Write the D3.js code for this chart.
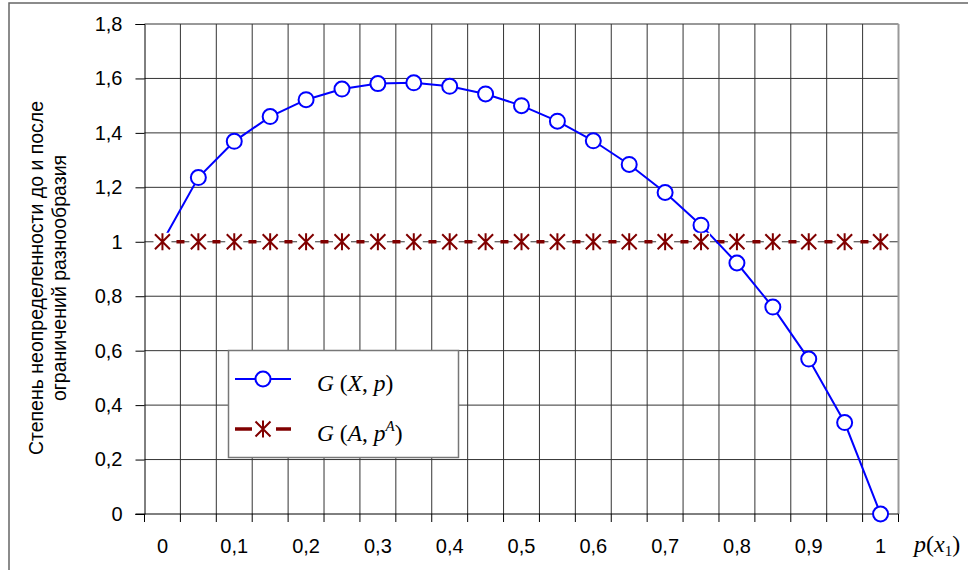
<!DOCTYPE html>
<html>
<head>
<meta charset="utf-8">
<script src="https://cdn.jsdelivr.net/npm/d3@7"></script>
<style>
  body { margin: 0; background: #fff; }
  svg { display: block; }
  .tick text { font-family: "Liberation Sans", Arial, sans-serif; font-size: 20px; fill: #000; }
</style>
</head>
<body>
<svg id="chart" width="968" height="570"></svg>
<script>
// p(x1) categories, 0 .. 1 step 0,05
const categories = ["0", "0,05", "0,1", "0,15", "0,2", "0,25", "0,3", "0,35", "0,4", "0,45", "0,5",
                    "0,55", "0,6", "0,65", "0,7", "0,75", "0,8", "0,85", "0,9", "0,95", "1"];
// G(X, p)
const gX = [1.000, 1.236, 1.369, 1.460, 1.522, 1.561, 1.581, 1.584, 1.571, 1.543, 1.500,
            1.443, 1.371, 1.284, 1.181, 1.061, 0.922, 0.760, 0.569, 0.336, 0.000];
// G(A, p^A)
const gA = [1, 1, 1, 1, 1, 1, 1, 1, 1, 1, 1, 1, 1, 1, 1, 1, 1, 1, 1, 1, 1];
const yTicks = [0, 0.2, 0.4, 0.6, 0.8, 1, 1.2, 1.4, 1.6, 1.8];
const yTitle = ["Степень неопределенности до и после", "ограничений разнообразия"];

const svg = d3.select("#chart");
const plotL = 144.5, plotR = 898.5, plotT = 24, plotB = 514;

const x = d3.scaleBand().domain(categories).range([plotL, plotR]).padding(0);
const y = d3.scaleLinear().domain([0, 1.8]).range([plotB, plotT]);
const cx = (d, i) => x(categories[i]) + x.bandwidth() / 2;
const edges = d3.range(categories.length + 1).map(i => plotL + i * x.step());

// outer frame
svg.append("rect").attr("x", 9).attr("y", 3).attr("width", 980).attr("height", 600)
  .attr("fill", "none").attr("stroke", "#666").attr("stroke-width", 1.5);

// grid
svg.append("g").selectAll("line").data(edges.slice(1)).join("line")
  .attr("x1", d => d).attr("x2", d => d).attr("y1", plotT).attr("y2", plotB)
  .attr("stroke", "#333").attr("stroke-width", 1);
svg.append("g").selectAll("line").data(yTicks.slice(1)).join("line")
  .attr("x1", plotL).attr("x2", plotR).attr("y1", d => y(d)).attr("y2", d => y(d))
  .attr("stroke", "#333").attr("stroke-width", 1);
// right border of plot area
svg.append("line").attr("x1", plotR).attr("x2", plotR).attr("y1", plotT).attr("y2", plotB)
  .attr("stroke", "#999").attr("stroke-width", 2);

// y axis
const yAxis = svg.append("g").attr("transform", `translate(${plotL},0)`)
  .call(d3.axisLeft(y).tickValues(yTicks).tickSize(9).tickPadding(13)
    .tickFormat(d => d3.format(".1~f")(d).replace(".", ",")));
yAxis.selectAll("line, path").attr("stroke", "#000");

// x axis: labels at every second category, ticks on band edges
const xAxis = svg.append("g").attr("transform", `translate(0,${plotB})`)
  .call(d3.axisBottom(x).tickSize(0).tickPadding(25)
    .tickFormat((d, i) => i % 2 === 0 ? d : ""));
xAxis.select("path").remove();
svg.append("line").attr("x1", plotL - 9).attr("x2", plotR).attr("y1", plotB).attr("y2", plotB)
  .attr("stroke", "#000");
svg.append("g").selectAll("line").data(edges).join("line")
  .attr("x1", d => d).attr("x2", d => d).attr("y1", plotB).attr("y2", plotB + 8)
  .attr("stroke", "#000");

// y title
const yt = svg.append("text")
  .attr("transform", "translate(0,278) rotate(-90)")
  .attr("text-anchor", "middle")
  .style("font-family", "Liberation Sans, Arial, sans-serif").style("font-size", "19.5px");
yt.selectAll("tspan").data(yTitle).join("tspan")
  .attr("x", 0).attr("y", (d, i) => 43 + i * 23).text(d => d);

// x title p(x1)
const xt = svg.append("text").attr("x", 914).attr("y", 552)
  .style("font-family", "Liberation Serif, Times New Roman, serif").style("font-size", "24px");
xt.append("tspan").style("font-style", "italic").text("p");
xt.append("tspan").text("(");
xt.append("tspan").style("font-style", "italic").text("x");
xt.append("tspan").attr("dy", 4).style("font-size", "15px").text("1");
xt.append("tspan").attr("dy", -4).text(")");

// series lines
const lineGen = d3.line().x(cx).y(d => y(d));
svg.append("path").datum(gA).attr("d", lineGen).attr("fill", "none")
  .attr("stroke", "#800000").attr("stroke-width", 3.5).attr("stroke-dasharray", "0,14,8,14");
svg.append("path").datum(gX).attr("d", lineGen).attr("fill", "none")
  .attr("stroke", "#0000ff").attr("stroke-width", 2);

function circleMarker(g, px, py) {
  g.append("circle").attr("cx", px).attr("cy", py).attr("r", 7.5)
    .attr("fill", "#fff").attr("stroke", "#0000ff").attr("stroke-width", 2);
}
function starMarker(g, px, py) {
  g.append("rect").attr("x", px - 9).attr("y", py - 9).attr("width", 18).attr("height", 18).attr("fill", "#fff");
  g.append("path")
    .attr("d", `M${px - 7.5},${py - 7.5}L${px + 7.5},${py + 7.5}M${px - 7.5},${py + 7.5}L${px + 7.5},${py - 7.5}M${px},${py - 8.5}L${px},${py + 8.5}`)
    .attr("stroke", "#800000").attr("stroke-width", 2);
}

const mk = svg.append("g");
gX.forEach((d, i) => circleMarker(mk, cx(d, i), y(d)));
gA.forEach((d, i) => starMarker(mk, cx(d, i), y(d)));

// legend
const lg = svg.append("g");
lg.append("rect").attr("x", 228.5).attr("y", 350.5).attr("width", 230).attr("height", 107)
  .attr("fill", "#fff").attr("stroke", "#777").attr("stroke-width", 1.5);
lg.append("line").attr("x1", 235).attr("x2", 291).attr("y1", 379).attr("y2", 379)
  .attr("stroke", "#0000ff").attr("stroke-width", 2);
circleMarker(lg, 263, 379);
lg.append("line").attr("x1", 235).attr("x2", 291).attr("y1", 429).attr("y2", 429)
  .attr("stroke", "#800000").attr("stroke-width", 3.5).attr("stroke-dasharray", "17,39");
lg.append("line").attr("x1", 276).attr("x2", 291).attr("y1", 429).attr("y2", 429)
  .attr("stroke", "#800000").attr("stroke-width", 3.5);
starMarker(lg, 263, 429);

const legendText = [["G", " (", "X", ", ", "p", ")"], ["G", " (", "A", ", ", "p", "A", ")"]];
legendText.forEach((parts, r) => {
  const t = lg.append("text").attr("x", 317).attr("y", 391 + r * 50)
    .style("font-family", "Liberation Serif, Times New Roman, serif").style("font-size", "23.5px");
  parts.forEach((s, k) => {
    const italic = /[A-Za-z]/.test(s);
    const sup = r === 1 && k === 5;
    const sp = t.append("tspan").style("font-style", italic ? "italic" : "normal").text(s);
    if (sup) sp.attr("dy", -10).style("font-size", "15px");
    if (r === 1 && k === 6) sp.attr("dy", 10);
  });
});
</script>
</body>
</html>
